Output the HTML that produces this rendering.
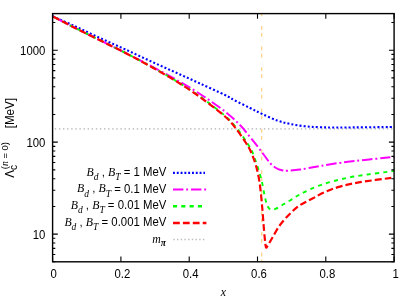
<!DOCTYPE html>
<html><head><meta charset="utf-8"><style>
html,body{margin:0;padding:0;background:#fff;}
svg{display:block;will-change:transform;}
text{font-family:"Liberation Sans",sans-serif;fill:#000;}
.it{font-family:"Liberation Serif",serif;font-style:italic;}
.rm{font-family:"Liberation Sans",sans-serif;font-style:normal;}
</style></head><body>
<svg width="415" height="300" viewBox="0 0 415 300">
<rect width="415" height="300" fill="#fff"/>
<!-- reference lines -->
<path d="M54.8 128.9 H394.1" stroke="#b0b0b0" stroke-width="1.4" stroke-dasharray="1.4 2.7" fill="none"/>
<path d="M261.7 13.6 V261.8" stroke="#ffd080" stroke-width="1.2" stroke-dasharray="3.8 3.2 3.8 9.8" stroke-dashoffset="8.2" fill="none"/>
<!-- curves -->
<g fill="none" stroke-linecap="butt" stroke-linejoin="round">
<path d="M52.60 16.30 C56.33 17.97 67.10 22.68 75.00 26.30 C82.90 29.92 91.67 34.17 100.00 38.00 C108.33 41.83 116.67 45.48 125.00 49.30 C133.33 53.12 141.67 57.08 150.00 60.90 C158.33 64.72 166.67 68.43 175.00 72.20 C183.33 75.97 191.67 79.70 200.00 83.50 C208.33 87.30 219.33 92.25 225.00 95.00 C230.67 97.75 229.83 97.83 234.00 100.00 C238.17 102.17 245.33 105.68 250.00 108.00 C254.67 110.32 257.50 111.83 262.00 113.90 C266.50 115.97 272.33 118.73 277.00 120.40 C281.67 122.07 285.33 122.92 290.00 123.90 C294.67 124.88 300.00 125.75 305.00 126.30 C310.00 126.85 314.17 127.00 320.00 127.20 C325.83 127.40 327.65 127.53 340.00 127.50 C352.35 127.47 385.08 127.08 394.10 127.00" stroke="#0000ff" stroke-width="2.1" stroke-dasharray="2 2.1"/>
<path d="M52.60 16.30 C56.33 18.23 67.10 23.90 75.00 27.90 C82.90 31.90 91.67 36.17 100.00 40.30 C108.33 44.43 116.67 48.50 125.00 52.70 C133.33 56.90 141.67 61.12 150.00 65.50 C158.33 69.88 166.67 74.25 175.00 79.00 C183.33 83.75 191.67 88.58 200.00 94.00 C208.33 99.42 218.33 106.33 225.00 111.50 C231.67 116.67 235.83 120.75 240.00 125.00 C244.17 129.25 247.00 133.33 250.00 137.00 C253.00 140.67 255.67 144.00 258.00 147.00 C260.33 150.00 262.00 152.33 264.00 155.00 C266.00 157.67 268.00 160.83 270.00 163.00 C272.00 165.17 274.00 166.78 276.00 168.00 C278.00 169.22 280.00 169.85 282.00 170.30 C284.00 170.75 285.00 170.82 288.00 170.70 C291.00 170.58 294.67 170.38 300.00 169.60 C305.33 168.82 311.67 167.35 320.00 166.00 C328.33 164.65 337.65 163.00 350.00 161.50 C362.35 160.00 386.75 157.75 394.10 157.00" stroke="#ff00ff" stroke-width="2.0" stroke-dasharray="10.4 2.8 1.9 2.9" stroke-dashoffset="-1"/>
<path d="M52.60 16.30 C56.33 18.23 67.10 23.90 75.00 27.90 C82.90 31.90 91.67 36.17 100.00 40.30 C108.33 44.43 116.67 48.42 125.00 52.70 C133.33 56.98 141.67 61.40 150.00 66.00 C158.33 70.60 166.67 75.22 175.00 80.30 C183.33 85.38 191.67 90.58 200.00 96.50 C208.33 102.42 218.92 110.55 225.00 115.80 C231.08 121.05 232.80 123.47 236.50 128.00 C240.20 132.53 244.57 139.00 247.20 143.00 C249.83 147.00 250.67 148.33 252.30 152.00 C253.93 155.67 255.47 160.33 257.00 165.00 C258.53 169.67 260.25 175.00 261.50 180.00 C262.75 185.00 263.63 191.00 264.50 195.00 C265.37 199.00 265.90 201.72 266.70 204.00 C267.50 206.28 268.42 207.77 269.30 208.70 C270.18 209.63 270.88 209.60 272.00 209.60 C273.12 209.60 274.17 209.55 276.00 208.70 C277.83 207.85 280.58 205.92 283.00 204.50 C285.42 203.08 287.67 201.88 290.50 200.20 C293.33 198.52 295.08 196.88 300.00 194.40 C304.92 191.92 311.67 188.15 320.00 185.30 C328.33 182.45 337.65 179.68 350.00 177.30 C362.35 174.92 386.75 172.05 394.10 171.00" stroke="#00ff00" stroke-width="1.9" stroke-dasharray="4.1 4.2" stroke-dashoffset="-2.8"/>
<path d="M52.60 16.30 C56.33 18.23 67.10 23.90 75.00 27.90 C82.90 31.90 91.67 36.17 100.00 40.30 C108.33 44.43 116.67 48.38 125.00 52.70 C133.33 57.02 141.67 61.57 150.00 66.20 C158.33 70.83 166.67 75.37 175.00 80.50 C183.33 85.63 191.67 91.00 200.00 97.00 C208.33 103.00 219.08 111.33 225.00 116.50 C230.92 121.67 232.00 123.58 235.50 128.00 C239.00 132.42 243.42 139.00 246.00 143.00 C248.58 147.00 249.37 148.33 251.00 152.00 C252.63 155.67 254.38 160.00 255.80 165.00 C257.22 170.00 258.47 175.33 259.50 182.00 C260.53 188.67 261.25 197.00 262.00 205.00 C262.75 213.00 263.42 223.33 264.00 230.00 C264.58 236.67 265.12 242.05 265.50 245.00 C265.88 247.95 265.97 247.53 266.30 247.70 C266.63 247.87 266.47 247.70 267.50 246.00 C268.53 244.30 270.42 241.00 272.50 237.50 C274.58 234.00 277.08 228.97 280.00 225.00 C282.92 221.03 286.67 217.00 290.00 213.70 C293.33 210.40 296.25 207.73 300.00 205.20 C303.75 202.67 308.33 200.70 312.50 198.50 C316.67 196.30 320.42 193.98 325.00 192.00 C329.58 190.02 334.17 188.23 340.00 186.60 C345.83 184.97 350.98 183.72 360.00 182.20 C369.02 180.68 388.42 178.28 394.10 177.50" stroke="#ff0000" stroke-width="2.2" stroke-dasharray="6.8 3.1" stroke-dashoffset="-0.9"/>
</g>
<!-- legend samples -->
<g fill="none">
<path d="M173 172.9 H205" stroke="#0000ff" stroke-width="2.1" stroke-dasharray="1.9 1.9"/>
<path d="M173 189.5 H206.2" stroke="#ff00ff" stroke-width="2.2" stroke-dasharray="10.4 2.8 1.9 2.9"/>
<path d="M173 206.25 H205" stroke="#00ff00" stroke-width="2.3" stroke-dasharray="4.1 4.2"/>
<path d="M173 223 H206.4" stroke="#ff0000" stroke-width="2.5" stroke-dasharray="6.8 3.1"/>
<path d="M173.3 239.5 H205" stroke="#bcbcbc" stroke-width="1.4" stroke-dasharray="1.4 2.3"/>
</g>
<!-- frame and ticks -->
<g fill="none" stroke="#000" stroke-width="1.4">
<rect x="52.6" y="13.6" width="341.50" height="248.20"/>
<g stroke-width="1.1"><path d="M52.60 261.80 v-5.2 M52.60 13.60 v5.2"/><path d="M120.90 261.80 v-5.2 M120.90 13.60 v5.2"/><path d="M189.20 261.80 v-5.2 M189.20 13.60 v5.2"/><path d="M257.50 261.80 v-5.2 M257.50 13.60 v5.2"/><path d="M325.80 261.80 v-5.2 M325.80 13.60 v5.2"/><path d="M394.10 261.80 v-5.2 M394.10 13.60 v5.2"/><path d="M52.60 261.80 h2.7 M394.10 261.80 h-2.7"/><path d="M52.60 254.52 h2.7 M394.10 254.52 h-2.7"/><path d="M52.60 248.36 h2.7 M394.10 248.36 h-2.7"/><path d="M52.60 243.03 h2.7 M394.10 243.03 h-2.7"/><path d="M52.60 238.32 h2.7 M394.10 238.32 h-2.7"/><path d="M52.60 234.12 h5.2 M394.10 234.12 h-5.2"/><path d="M52.60 206.43 h2.7 M394.10 206.43 h-2.7"/><path d="M52.60 190.24 h2.7 M394.10 190.24 h-2.7"/><path d="M52.60 178.75 h2.7 M394.10 178.75 h-2.7"/><path d="M52.60 169.84 h2.7 M394.10 169.84 h-2.7"/><path d="M52.60 162.56 h2.7 M394.10 162.56 h-2.7"/><path d="M52.60 156.40 h2.7 M394.10 156.40 h-2.7"/><path d="M52.60 151.07 h2.7 M394.10 151.07 h-2.7"/><path d="M52.60 146.36 h2.7 M394.10 146.36 h-2.7"/><path d="M52.60 142.16 h5.2 M394.10 142.16 h-5.2"/><path d="M52.60 114.47 h2.7 M394.10 114.47 h-2.7"/><path d="M52.60 98.28 h2.7 M394.10 98.28 h-2.7"/><path d="M52.60 86.79 h2.7 M394.10 86.79 h-2.7"/><path d="M52.60 77.88 h2.7 M394.10 77.88 h-2.7"/><path d="M52.60 70.60 h2.7 M394.10 70.60 h-2.7"/><path d="M52.60 64.44 h2.7 M394.10 64.44 h-2.7"/><path d="M52.60 59.11 h2.7 M394.10 59.11 h-2.7"/><path d="M52.60 54.40 h2.7 M394.10 54.40 h-2.7"/><path d="M52.60 50.19 h5.2 M394.10 50.19 h-5.2"/><path d="M52.60 22.51 h2.7 M394.10 22.51 h-2.7"/></g>
</g>
<text transform="translate(53.60,278.40) scale(0.11375,0.12500)" font-size="100" text-anchor="middle">0</text><text transform="translate(122.40,278.40) scale(0.11375,0.12500)" font-size="100" text-anchor="middle">0.2</text><text transform="translate(190.70,278.40) scale(0.11375,0.12500)" font-size="100" text-anchor="middle">0.4</text><text transform="translate(259.00,278.40) scale(0.11375,0.12500)" font-size="100" text-anchor="middle">0.6</text><text transform="translate(327.30,278.40) scale(0.11375,0.12500)" font-size="100" text-anchor="middle">0.8</text><text transform="translate(395.60,278.40) scale(0.11375,0.12500)" font-size="100" text-anchor="middle">1</text>
<text transform="translate(45.40,238.72) scale(0.11375,0.12500)" font-size="100" text-anchor="end">10</text><text transform="translate(45.40,146.76) scale(0.11375,0.12500)" font-size="100" text-anchor="end">100</text><text transform="translate(45.40,54.79) scale(0.11375,0.12500)" font-size="100" text-anchor="end">1000</text>
<text transform="translate(166.30,176.10) scale(0.11375,0.12500)" font-size="100" text-anchor="end">= 1 MeV</text><text transform="translate(120.52,175.80) scale(0.12500)" text-anchor="end" class="it" font-size="94.4">B<tspan font-size="76" dy="32.8">d</tspan><tspan dy="-32.8" class="rm" font-size="91.2"> , </tspan>B<tspan font-size="76" dy="32.8">T</tspan></text><text transform="translate(166.30,192.70) scale(0.11375,0.12500)" font-size="100" text-anchor="end">= 0.1 MeV</text><text transform="translate(111.04,192.40) scale(0.12500)" text-anchor="end" class="it" font-size="94.4">B<tspan font-size="76" dy="32.8">d</tspan><tspan dy="-32.8" class="rm" font-size="91.2"> , </tspan>B<tspan font-size="76" dy="32.8">T</tspan></text><text transform="translate(166.30,209.45) scale(0.11375,0.12500)" font-size="100" text-anchor="end">= 0.01 MeV</text><text transform="translate(104.71,209.15) scale(0.12500)" text-anchor="end" class="it" font-size="94.4">B<tspan font-size="76" dy="32.8">d</tspan><tspan dy="-32.8" class="rm" font-size="91.2"> , </tspan>B<tspan font-size="76" dy="32.8">T</tspan></text><text transform="translate(166.30,226.20) scale(0.11375,0.12500)" font-size="100" text-anchor="end">= 0.001 MeV</text><text transform="translate(98.39,225.90) scale(0.12500)" text-anchor="end" class="it" font-size="94.4">B<tspan font-size="76" dy="32.8">d</tspan><tspan dy="-32.8" class="rm" font-size="91.2"> , </tspan>B<tspan font-size="76" dy="32.8">T</tspan></text><text transform="translate(166.00,242.50) scale(0.12500)" text-anchor="end" class="it" font-size="94.4">m<tspan font-size="76" dy="28.8" font-weight="bold">π</tspan></text>
<text transform="translate(223.35,296.30) scale(0.12500)" text-anchor="middle" class="it" font-size="94.4">x</text>
<g transform="translate(13.7,177.7) rotate(-90)"><text transform="translate(0.00,0.00) scale(0.11937,0.12500)" font-size="97.6">Λ</text><text transform="translate(7.80,3.60) scale(0.11937,0.12500)" font-size="84.8">c</text><text transform="translate(8.50,-5.40) scale(0.11937,0.12500)" font-size="79.2">(<tspan class="it" font-size="81.6">n</tspan> = 0)</text><text transform="translate(49.40,0.00) scale(0.11937,0.12500)" font-size="97.6">[MeV]</text></g>
</svg>
</body></html>
